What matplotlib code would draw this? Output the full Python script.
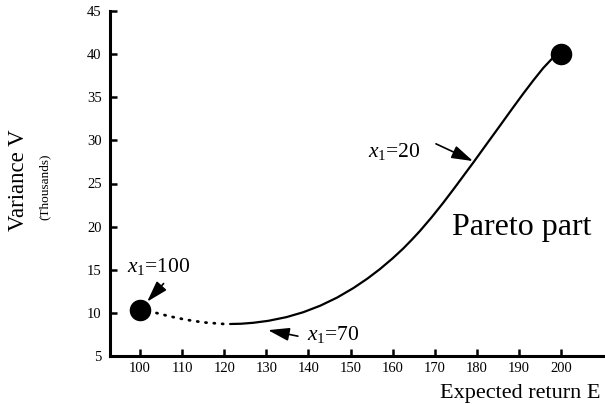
import matplotlib
matplotlib.use('Agg')
from matplotlib import pyplot as plt

plt.rcParams['font.family'] = 'Liberation Serif'
plt.rcParams['mathtext.fontset'] = 'custom'
plt.rcParams['mathtext.rm'] = 'Liberation Serif'
plt.rcParams['mathtext.it'] = 'Liberation Serif:italic'

# Efficient frontier (E in units, V in thousands)
pareto_E = [121.4, 124, 126.9, 130.5, 134.8, 138.8, 142.8, 146.8, 150.7, 154, 157.0,
            160, 162.5, 164.6, 166.5, 169.3, 172, 174.8, 177.6, 179.2, 182.3, 185.5,
            188.3, 191.0, 193.5, 195.8, 198.6, 200]
pareto_V = [8.71, 8.74, 8.85, 9.08, 9.51, 10.08, 10.83, 11.77, 12.88, 13.97, 15.08,
            16.32, 17.45, 18.5, 19.5, 21.1, 22.75, 24.55, 26.4, 27.45, 29.55, 31.7,
            33.6, 35.4, 37.0, 38.4, 39.85, 40.0]

# Non-Pareto (dotted) part
dotted_E = [100, 103, 107, 111, 115, 119.7, 121.4]
dotted_V = [10.3, 10.1, 9.6, 9.2, 8.9, 8.72, 8.71]

# End points
end_E = [100, 200]
end_V = [10.3, 40.0]

x_ticks = [100, 110, 120, 130, 140, 150, 160, 170, 180, 190, 200]
y_ticks = [5, 10, 15, 20, 25, 30, 35, 40, 45]

fig = plt.figure(figsize=(6.05, 4.04), dpi=100)
ax = fig.add_axes([110 / 605, 1 - 356 / 404, 495 / 605, 345 / 404])

ax.plot(pareto_E, pareto_V, color='black', lw=1.6, solid_capstyle='round', solid_joinstyle='round')
ax.plot(dotted_E, dotted_V, color='black', lw=2, linestyle=(0, (0.4, 2.6)), dash_capstyle='round')
ax.plot(end_E, end_V, 'o', color='black', markersize=14.5, zorder=5)

arrow = dict(arrowstyle='-|>,head_length=1.3,head_width=0.4', color='black', lw=1.2, shrinkA=0, shrinkB=0)
ax.annotate('', xy=(101.7, 11.3), xytext=(105.6, 13.4), arrowprops=arrow)
ax.text(96.9, 14.74, '$x_1$=100', fontsize=15.5)

ax.annotate('', xy=(179.1, 27.6), xytext=(170.3, 29.6), arrowprops=arrow)
ax.text(154.2, 28.07, '$x_1$=20', fontsize=15.5)

ax.annotate('', xy=(130.4, 8.0), xytext=(137.5, 7.3), arrowprops=arrow)
ax.text(139.7, 6.9, '$x_1$=70', fontsize=15.5)

ax.text(174.1, 19.0, 'Pareto part', fontsize=23)

ax.set_xlim(92.87, 210.45)
ax.set_ylim(5, 45)
ax.set_xticks(x_ticks)
ax.set_yticks(y_ticks)
ax.tick_params(direction='in', length=5, width=1.8, labelsize=10.5, pad=6)
ax.tick_params(axis='x', pad=4)
for side in ['top', 'right']:
    ax.spines[side].set_visible(False)
for side in ['left', 'bottom']:
    ax.spines[side].set_linewidth(2.2)

fig.text(19 / 605, 1 - 180 / 404, 'Variance V', rotation=90, fontsize=16.5, ha='center', va='center')
fig.text(45 / 605, 1 - 187 / 404, '(Thousands)', rotation=90, fontsize=9.5, ha='center', va='center')
fig.text(601 / 605, 1 - 398 / 404, 'Expected return E', fontsize=16, ha='right', va='baseline')

fig.savefig('out.png', dpi=100)
